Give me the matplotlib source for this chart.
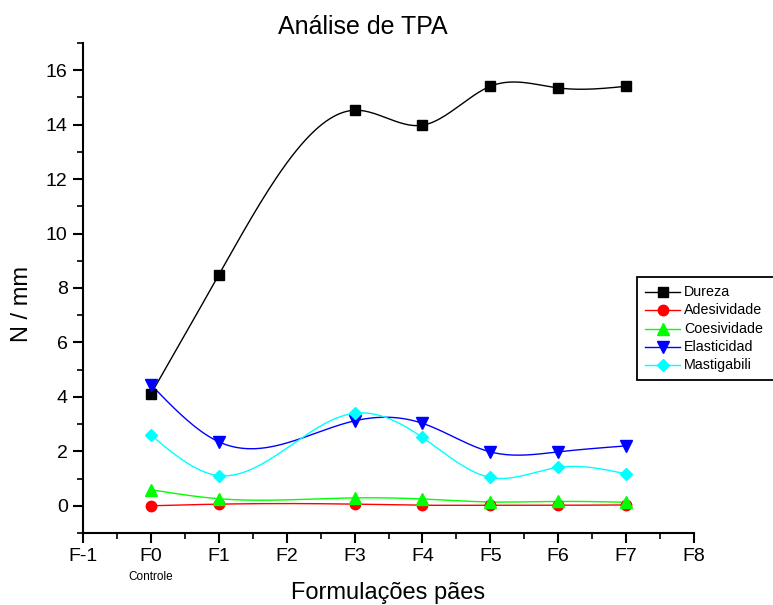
import numpy as np
import matplotlib
matplotlib.use("Agg")
import matplotlib.pyplot as plt
from matplotlib.ticker import MultipleLocator, FixedLocator
from matplotlib.patches import Rectangle
from matplotlib.lines import Line2D

plt.rcParams['font.family'] = ['Liberation Sans', 'DejaVu Sans']

x_pos = [0, 1, 3, 4, 5, 6, 7]
tick_labels = ["F-1", "F0", "F1", "F2", "F3", "F4", "F5", "F6", "F7", "F8"]
dureza = [4.1, 8.48, 14.53, 13.98, 15.41, 15.35, 15.41]
adesividade = [0.0, 0.06, 0.06, 0.02, 0.02, 0.02, 0.03]
coesividade = [0.59, 0.26, 0.29, 0.25, 0.14, 0.16, 0.13]
elasticidad = [4.45, 2.35, 3.12, 3.03, 1.98, 1.98, 2.2]
mastigabili = [2.6, 1.11, 3.40, 2.51, 1.04, 1.41, 1.17]

series = [
    ("Dureza", dureza, "black", "s", 7),
    ("Adesividade", adesividade, "red", "o", 7.5),
    ("Coesividade", coesividade, "#00ff00", "^", 8.5),
    ("Elasticidad", elasticidad, "blue", "v", 8.5),
    ("Mastigabili", mastigabili, "cyan", "D", 6.5),
]


def natural_spline(x, y, xs):
    x = np.asarray(x, float)
    y = np.asarray(y, float)
    n = len(x)
    h = np.diff(x)
    A = np.zeros((n, n))
    b = np.zeros(n)
    A[0, 0] = 1
    A[-1, -1] = 1
    for i in range(1, n - 1):
        A[i, i - 1] = h[i - 1]
        A[i, i] = 2 * (h[i - 1] + h[i])
        A[i, i + 1] = h[i]
        b[i] = 3 * ((y[i + 1] - y[i]) / h[i] - (y[i] - y[i - 1]) / h[i - 1])
    c = np.linalg.solve(A, b)
    out = np.empty_like(xs)
    for k, xv in enumerate(xs):
        i = min(max(np.searchsorted(x, xv) - 1, 0), n - 2)
        dx = xv - x[i]
        bi = (y[i + 1] - y[i]) / h[i] - h[i] * (2 * c[i] + c[i + 1]) / 3
        di = (c[i + 1] - c[i]) / (3 * h[i])
        out[k] = y[i] + bi * dx + c[i] * dx ** 2 + di * dx ** 3
    return out


W, H = 773, 605
fig = plt.figure(figsize=(W / 100, H / 100), dpi=100)
ax = fig.add_axes([83 / W, 1 - 533 / H, (694 - 83) / W, (533 - 43) / H])

xs = np.linspace(0, 7, 400)
for name, vals, col, mk, ms in series:
    ys = natural_spline(x_pos, vals, xs)
    ax.plot(xs, ys, color=col, lw=1.0, zorder=2)
    ax.plot(x_pos, vals, linestyle="none", marker=mk, color=col, ms=ms,
            markeredgecolor=col, zorder=3)

# legend (frame runs past the right edge of the figure, as in the reference)
fig.patches.append(Rectangle((637 / W, 1 - 380 / H), 200 / W, 103 / H,
                             transform=fig.transFigure, facecolor="white",
                             edgecolor="black", lw=1.3, zorder=4))
for i, (name, vals, col, mk, ms) in enumerate(series):
    yy = 1 - (292 + 18.3 * i) / H
    fig.lines.append(Line2D([645 / W, 680 / W], [yy, yy], transform=fig.transFigure,
                            color=col, lw=1.0, zorder=5))
    fig.lines.append(Line2D([662.5 / W], [yy], transform=fig.transFigure, color=col,
                            marker=mk, ms=ms, markeredgecolor=col, ls="none", zorder=6))
    fig.text(684 / W, yy, name, fontsize=10.3, ha="left", va="center", zorder=6)

ax.set_xlim(-1, 8)
ax.set_ylim(-1, 17)
ax.xaxis.set_major_locator(FixedLocator(list(range(-1, 9))))
ax.set_xticklabels(tick_labels)
ax.xaxis.set_minor_locator(MultipleLocator(0.5))
ax.yaxis.set_major_locator(FixedLocator([0, 2, 4, 6, 8, 10, 12, 14, 16]))
ax.yaxis.set_minor_locator(MultipleLocator(1))

for s in ["top", "right"]:
    ax.spines[s].set_visible(False)
for s in ["left", "bottom"]:
    ax.spines[s].set_linewidth(1.5)
ax.tick_params(which="major", direction="out", length=7, width=1.5, labelsize=14, pad=4)
ax.tick_params(which="minor", direction="out", length=4, width=1.2)

fig.text(362.5 / W, 1 - 27 / H, "Análise de TPA", fontsize=18, ha="center", va="center")
fig.text(388 / W, 1 - 593 / H, "Formulações pães", fontsize=17, ha="center", va="center")
fig.text(22 / W, 1 - 304 / H, "N / mm", fontsize=17, ha="center", va="center", rotation=90)
fig.text(151 / W, 1 - 577 / H, "Controle", fontsize=8.5, ha="center", va="center")

fig.savefig("out.png", dpi=100)
